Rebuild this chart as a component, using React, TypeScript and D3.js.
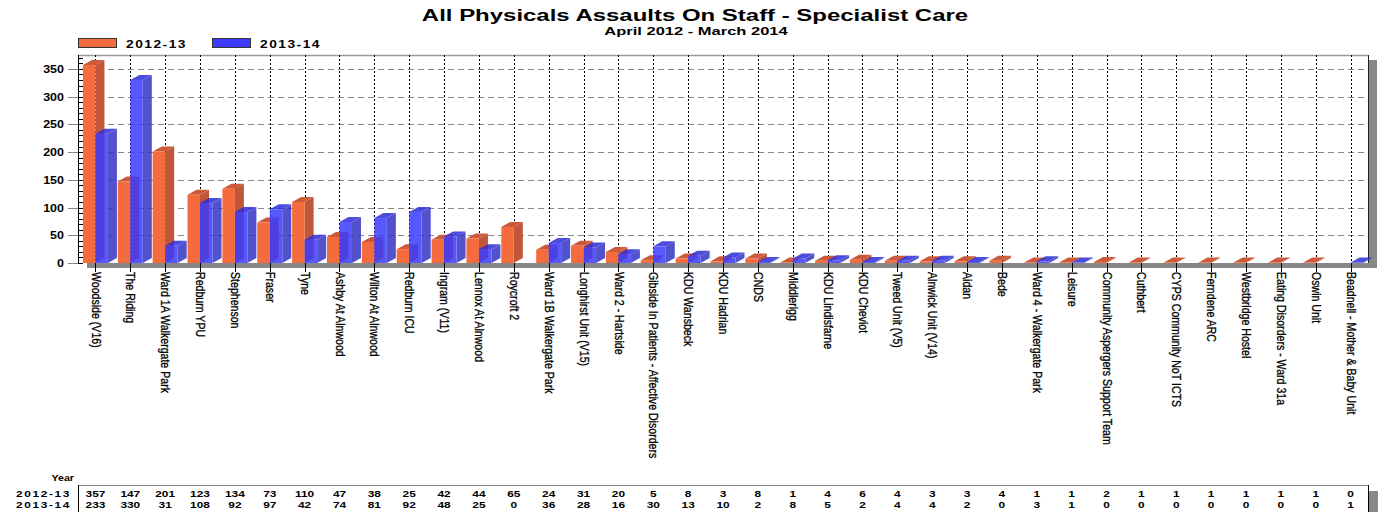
import React from 'react';
import * as d3 from 'd3';

const categories = [
  'Woodside (V16)', 'The Riding', 'Ward 1A Walkergate Park', 'Redburn YPU', 'Stephenson',
  'Fraser', 'Tyne', 'Ashby At Alnwood', 'Wilton At Alnwood', 'Redburn ICU', 'Ingram (V11)',
  'Lennox At Alnwood', 'Roycroft 2', 'Ward 1B Walkergate Park', 'Longhirst Unit (V15)',
  'Ward 2 - Hartside', 'Gibside In Patients - Affective Disorders', 'KDU Wansbeck', 'KDU Hadrian',
  'CNDS', 'Middlerigg', 'KDU Lindisfarne', 'KDU Cheviot', 'Tweed Unit (V5)', 'Alnwick Unit (V14)',
  'Aidan', 'Bede', 'Ward 4 - Walkergate Park', 'Leisure', 'Community Aspergers Support Team',
  'Cuthbert', 'CYPS Community NoT ICTS', 'Ferndene ARC', 'Westbridge Hostel',
  'Eating Disorders - Ward 31a', 'Oswin Unit', 'Beadnell  - Mother & Baby Unit'
];

const values1213 = [357, 147, 201, 123, 134, 73, 110, 47, 38, 25, 42, 44, 65, 24, 31, 20, 5, 8, 3, 8, 1, 4, 6, 4, 3, 3, 4, 1, 1, 2, 1, 1, 1, 1, 1, 1, 0];
const values1314 = [233, 330, 31, 108, 92, 97, 42, 74, 81, 92, 48, 25, 0, 36, 28, 16, 30, 13, 10, 2, 8, 5, 2, 4, 4, 2, 0, 3, 1, 0, 0, 0, 0, 0, 0, 0, 1];

const seriesNames = ['2012-13', '2013-14'];
const yTicks = [0, 50, 100, 150, 200, 250, 300, 350];

const W = 1384;
const H = 512;
const plot = { left: 78, right: 1368, top: 55, bottom: 263 };
const FONT = 'Liberation Sans, Arial, sans-serif';
const SX = 1.25; // the picture is stretched sideways

const palette = [
  { front: '#f46b3d', side: '#c0563a', top: '#cc5a3a' },
  { front: '#3b3bff', side: '#3434c4', top: '#2e2ed8' },
];

const BAR_W = 12.5;
const DX = 9;
const DY = 5;

function Bar({ x0, v, y, colors, alpha }) {
  if (v <= 0) return null;
  const x1 = x0 + BAR_W;
  const yt = y(v);
  const yb = plot.bottom;
  return (
    <g opacity={alpha}>
      <polygon
        points={`${x1},${yt} ${x1 + DX},${yt - DY} ${x1 + DX},${yb - DY} ${x1},${yb}`}
        fill={colors.side}
      />
      <polygon
        points={`${x0},${yt} ${x0 + DX},${yt - DY} ${x1 + DX},${yt - DY} ${x1},${yt}`}
        fill={colors.top}
      />
      <rect x={x0} y={yt} width={BAR_W} height={yb - yt} fill={colors.front} />
    </g>
  );
}

export default function App() {
  const x = d3.scaleBand().domain(categories).range([plot.left, plot.right]).padding(0);
  const y = d3.scaleLinear().domain([0, 375]).range([plot.bottom, plot.top]);
  const cx = (c) => x(c) + x.bandwidth() / 2;
  const minorTicks = d3.range(0, 371, 10);

  return (
    <svg width={W} height={H} style={{ position: 'absolute', left: 0, top: 0 }} fontFamily={FONT}>
      <rect width={W} height={H} fill="#fff" />

      {/* title */}
      <text transform="translate(695,21) scale(1.41,1)" textAnchor="middle" fontWeight="bold" fontSize={17}>
        All Physicals Assaults On Staff - Specialist Care
      </text>
      <text transform="translate(696,35) scale(1.5,1)" textAnchor="middle" fontWeight="bold" fontSize={11}>
        April 2012 - March 2014
      </text>

      {/* legend */}
      {seriesNames.map((s, i) => (
        <g key={s} transform={`translate(${78 + i * 134},0)`}>
          <rect x={0.5} y={38.5} width={38} height={9} fill={palette[i].front} stroke="#333" strokeWidth={1} />
          <text transform={`translate(48,47.5) scale(${SX},1)`} fontWeight="bold" fontSize={11} letterSpacing={1.2}>
            {s}
          </text>
        </g>
      ))}

      {/* plot shadow + background */}
      <rect x={plot.left + 9} y={plot.top + 5} width={plot.right - plot.left} height={plot.bottom - plot.top} fill="#888" />
      <rect x={plot.left} y={plot.top} width={plot.right - plot.left} height={plot.bottom - plot.top} fill="#fff" />
      <line x1={plot.left} x2={plot.right} y1={plot.top + 0.5} y2={plot.top + 0.5} stroke="#999" strokeWidth={1.5} />
      <line x1={plot.right + 0.5} x2={plot.right + 0.5} y1={plot.top} y2={plot.bottom} stroke="#222" />

      {/* horizontal grid */}
      {yTicks.filter((t) => t > 0).map((t) => (
        <line key={t} x1={plot.left} x2={plot.right} y1={Math.round(y(t)) + 0.5} y2={Math.round(y(t)) + 0.5}
          stroke="#888" strokeDasharray="6,4" />
      ))}
      {/* vertical grid */}
      {categories.map((c) => (
        <line key={c} x1={Math.round(cx(c)) + 0.5} x2={Math.round(cx(c)) + 0.5} y1={plot.top} y2={plot.bottom}
          stroke="#000" strokeDasharray="2,2" />
      ))}

      {/* bars */}
      {categories.map((c, i) => (
        <g key={c}>
          <Bar x0={cx(c) - BAR_W} v={values1213[i]} y={y} colors={palette[0]} alpha={1} />
          <Bar x0={cx(c)} v={values1314[i]} y={y} colors={palette[1]} alpha={0.85} />
        </g>
      ))}

      {/* y axis */}
      <line x1={plot.left + 0.5} x2={plot.left + 0.5} y1={plot.top} y2={plot.bottom} stroke="#000" />
      {minorTicks.map((t) => (
        <line key={t} x1={plot.left} x2={plot.left + 5} y1={Math.round(y(t)) + 0.5} y2={Math.round(y(t)) + 0.5} stroke="#000" />
      ))}
      {yTicks.map((t) => (
        <g key={t}>
          <line x1={plot.left - 10} x2={plot.left} y1={Math.round(y(t)) + 0.5} y2={Math.round(y(t)) + 0.5} stroke="#888" />
          <text transform={`translate(${plot.left - 14},${y(t) + 4}) scale(${SX},1)`} textAnchor="end" fontWeight="bold" fontSize={10}>
            {t}
          </text>
        </g>
      ))}

      {/* x ticks and labels */}
      {categories.map((c) => (
        <g key={c}>
          <line x1={Math.round(cx(c)) + 0.5} x2={Math.round(cx(c)) + 0.5} y1={plot.bottom} y2={272} stroke="#000" />
          <text transform={`translate(${cx(c) + 1},272) scale(1.2,1) rotate(90)`} fontSize={10.6} fill="#000"
            stroke="#000" strokeWidth={0.25} dominantBaseline="central">
            {c}
          </text>
        </g>
      ))}

      {/* data table */}
      <text transform={`translate(74,480.5) scale(${SX},1)`} textAnchor="end" fontWeight="bold" fontSize={8.5}>Year</text>
      <rect x={plot.right + 1} y={491} width={9} height={H - 491} fill="#888" />
      <line x1={plot.left} x2={plot.right} y1={485.5} y2={485.5} stroke="#888" />
      <line x1={plot.left + 0.5} x2={plot.left + 0.5} y1={485} y2={H} stroke="#000" />
      <line x1={plot.right + 0.5} x2={plot.right + 0.5} y1={485} y2={H} stroke="#000" />
      {seriesNames.map((s, r) => (
        <text key={s} transform={`translate(71,${496.5 + r * 11.5}) scale(${SX},1)`} textAnchor="end" fontWeight="bold" fontSize={9.5} letterSpacing={1.3}>
          {s}
        </text>
      ))}
      {categories.map((c, i) => (
        <g key={c}>
          <text transform={`translate(${cx(c)},496.5) scale(${SX},1)`} textAnchor="middle" fontWeight="bold" fontSize={9.5}>
            {values1213[i]}
          </text>
          <text transform={`translate(${cx(c)},508) scale(${SX},1)`} textAnchor="middle" fontWeight="bold" fontSize={9.5}>
            {values1314[i]}
          </text>
        </g>
      ))}
    </svg>
  );
}
